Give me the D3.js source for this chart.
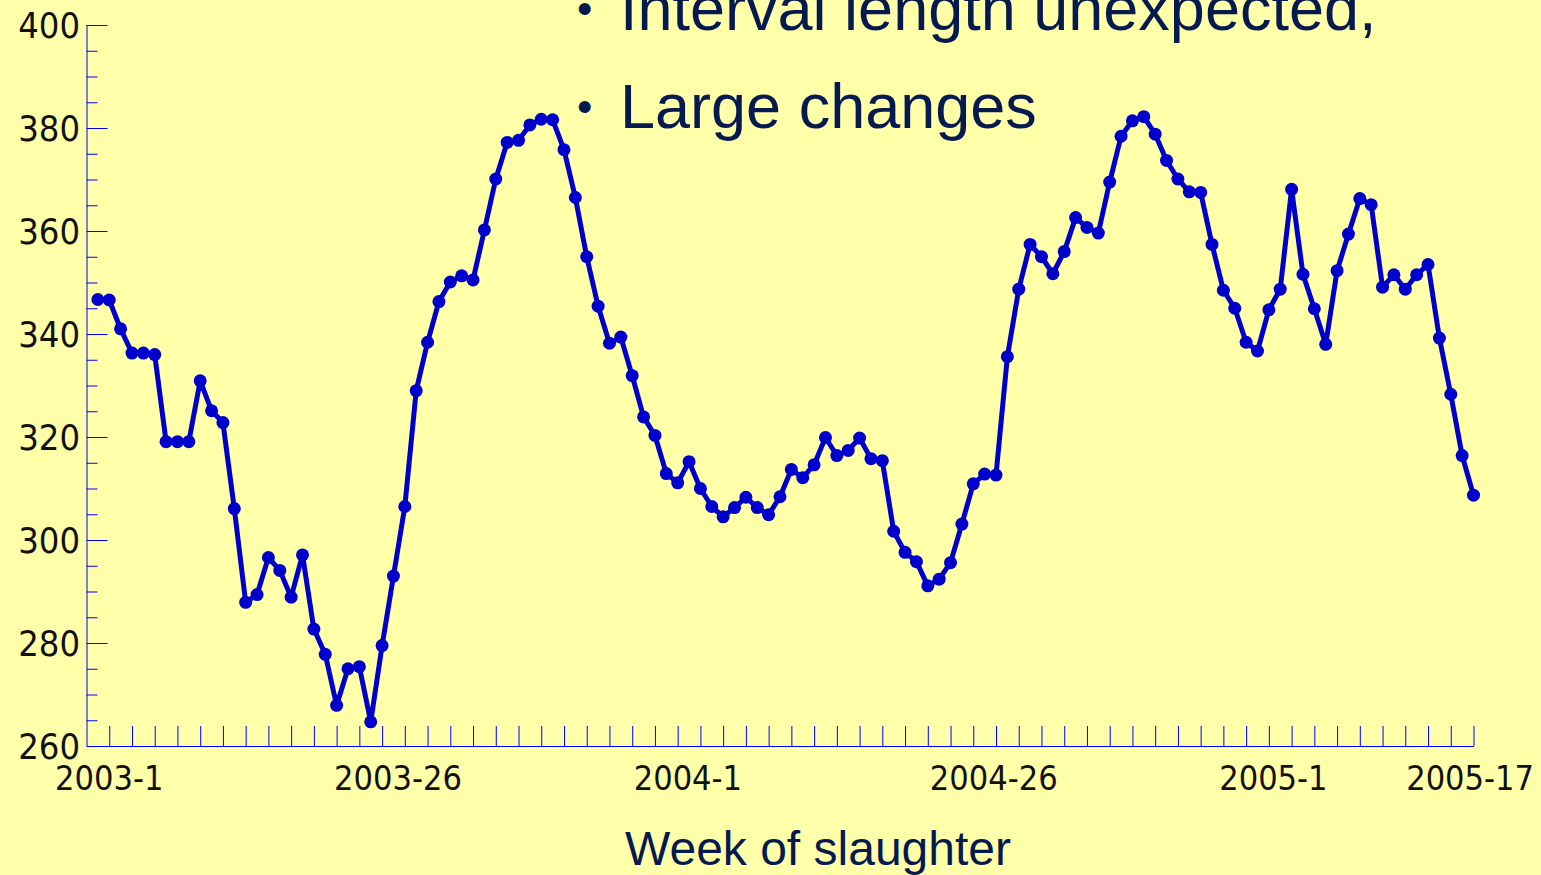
<!DOCTYPE html>
<html>
<head>
<meta charset="utf-8">
<script src="https://cdn.jsdelivr.net/npm/d3@7"></script>
<style>
  html, body { margin: 0; padding: 0; background: #ffffaa; overflow: hidden; }
  svg { display: block; }
</style>
</head>
<body>
<div id="chart"></div>
<script>
// weekly values, 2003-1 .. 2005-17 (122 weeks)
const prices2003 = [
  346.7, 346.6, 341.0, 336.3, 336.3, 336.0, 319.1, 319.1, 319.1, 330.9,
  325.1, 322.8, 306.1, 287.9, 289.4, 296.6, 294.1, 288.9, 297.1, 282.7,
  277.8, 267.9, 275.0, 275.4, 264.7, 279.5, 293.0, 306.5, 329.0, 338.4,
  346.3, 350.1, 351.3, 350.5, 360.2, 370.1, 377.2, 377.6, 380.6, 381.7,
  381.6, 375.8, 366.5, 355.0, 345.4, 338.2, 339.4, 331.9, 323.9, 320.3,
  312.9, 311.1
];
const prices2004 = [
  315.2, 310.0, 306.5, 304.5, 306.3, 308.3, 306.3, 304.9, 308.4, 313.7,
  312.1, 314.6, 319.9, 316.4, 317.4, 319.8, 315.8, 315.4, 301.7, 297.6,
  295.8, 291.1, 292.4, 295.6, 303.1, 310.9, 312.8, 312.6, 335.6, 348.7,
  357.4, 355.0, 351.7, 356.0, 362.6, 360.7, 359.6, 369.5, 378.4, 381.4,
  382.2, 378.8, 373.7, 370.1, 367.6, 367.5, 357.4, 348.5, 345.0, 338.4,
  336.7, 344.7, 348.7
];
const prices2005 = [
  368.1, 351.6, 344.9, 338.0, 352.3, 359.4, 366.3, 365.1, 349.1, 351.5,
  348.7, 351.5, 353.5, 339.2, 328.3, 316.4, 308.7
];

const weekLabels = ["2003-1", "2003-26", "2004-1", "2004-26", "2005-1", "2005-17"];
const weekLabelAt = [2, 27.4, 52.9, 79.8, 104.4, 121.7];

const yMajor = [260, 280, 300, 320, 340, 360, 380, 400];
const bullets = ["Interval length unexpected,", "Large changes"];
const xTitle = "Week of slaughter";

const values = prices2003.concat(prices2004, prices2005);
const series = values.map((v, i) => ({week: i + 1, value: v}));

const width = 1541, height = 875;
const navy = "#061a50", lineBlue = "#0000cc";
const tickFont = "'DejaVu Sans Condensed', 'DejaVu Sans', sans-serif";

const svg = d3.select("#chart")
  .append("svg")
  .attr("width", width)
  .attr("height", height)
  .style("background", "#ffffaa");

const x = d3.scaleLinear()
  .domain([0, values.length])
  .range([86.5, 1473.5]);

const y = d3.scaleLinear()
  .domain([260, 400])
  .range([746, 25]);

// y axis: long major ticks, short minor ticks every 5
const minor = d3.range(260, 401, 5).filter(v => v % 20 !== 0);

svg.append("g")
  .attr("transform", `translate(${x(0)},0)`)
  .call(d3.axisRight(y).tickValues(minor).tickSize(11).tickFormat(""))
  .call(g => g.select(".domain").remove());

const yAxis = svg.append("g")
  .attr("transform", `translate(${x(0)},0)`)
  .call(d3.axisRight(y).tickValues(yMajor).tickSize(21).tickFormat(""));
yAxis.select(".domain").attr("d", `M0.5,${y(260)}V${y(400)}`);

svg.selectAll("g.tick line, .domain")
  .attr("stroke", "#0000ff")
  .attr("stroke-width", 1);

svg.append("g")
  .selectAll("text")
  .data(yMajor)
  .enter().append("text")
  .attr("x", 80)
  .attr("y", d => y(d))
  .attr("dy", "0.36em")
  .attr("text-anchor", "end")
  .attr("font-family", tickFont)
  .attr("font-size", 36)
  .attr("fill", "#111")
  .text(d => d);

// x axis: a tick every second week, pointing up
const xAxis = svg.append("g")
  .attr("transform", `translate(0,${y(260)})`)
  .call(d3.axisTop(x).tickValues(d3.range(2, values.length + 1, 2)).tickSize(20).tickFormat("").tickSizeOuter(0));
xAxis.selectAll("line, .domain")
  .attr("stroke", "#0000ff")
  .attr("stroke-width", 1);

svg.append("g")
  .selectAll("text")
  .data(weekLabels)
  .enter().append("text")
  .attr("x", (d, i) => x(weekLabelAt[i]))
  .attr("y", 790)
  .attr("text-anchor", "middle")
  .attr("font-family", tickFont)
  .attr("font-size", 34)
  .attr("fill", "#111")
  .text(d => d);

svg.append("text")
  .attr("x", 818)
  .attr("y", 865)
  .attr("text-anchor", "middle")
  .attr("font-family", "'Liberation Sans', Arial, sans-serif")
  .attr("font-size", 48)
  .attr("fill", navy)
  .text(xTitle);

// the line and its dots
const line = d3.line()
  .x(d => x(d.week))
  .y(d => y(d.value));

svg.append("path")
  .datum(series)
  .attr("d", line)
  .attr("fill", "none")
  .attr("stroke", lineBlue)
  .attr("stroke-width", 5)
  .attr("stroke-linejoin", "round");

svg.append("g")
  .selectAll("circle")
  .data(series)
  .enter().append("circle")
  .attr("cx", d => x(d.week))
  .attr("cy", d => y(d.value))
  .attr("r", 6.5)
  .attr("fill", lineBlue);

// slide bullet text overlapping the top of the plot
const notes = svg.append("g");
bullets.forEach((t, i) => {
  const base = 30 + i * 98;
  notes.append("text")
    .attr("x", 577)
    .attr("y", base - 6)
    .attr("font-family", "'Liberation Sans', Arial, sans-serif")
    .attr("font-size", 44)
    .attr("fill", navy)
    .text("\u2022");
  notes.append("text")
    .attr("x", 620)
    .attr("y", base)
    .attr("font-family", "'Liberation Sans', Arial, sans-serif")
    .attr("font-size", 63)
    .attr("fill", navy)
    .text(t);
});
</script>
</body>
</html>
